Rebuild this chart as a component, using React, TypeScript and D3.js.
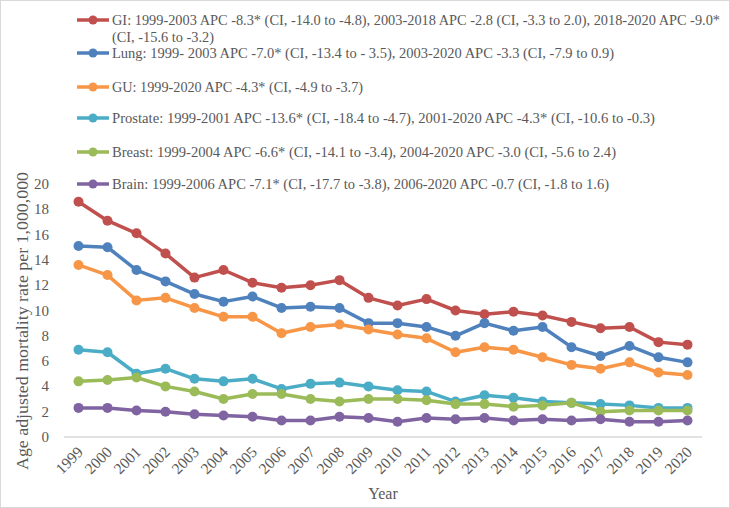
import React, { useEffect, useRef } from "react";
import * as d3 from "d3";

const years = [1999, 2000, 2001, 2002, 2003, 2004, 2005, 2006, 2007, 2008, 2009, 2010,
  2011, 2012, 2013, 2014, 2015, 2016, 2017, 2018, 2019, 2020];

const gi = [18.6, 17.1, 16.1, 14.5, 12.6, 13.2, 12.2, 11.8, 12.0, 12.4, 11.0, 10.4,
  10.9, 10.0, 9.7, 9.9, 9.6, 9.1, 8.6, 8.7, 7.5, 7.3];
const lung = [15.1, 15.0, 13.2, 12.3, 11.3, 10.7, 11.1, 10.2, 10.3, 10.2, 9.0, 9.0,
  8.7, 8.0, 9.0, 8.4, 8.7, 7.1, 6.4, 7.2, 6.3, 5.9];
const gu = [13.6, 12.8, 10.8, 11.0, 10.2, 9.5, 9.5, 8.2, 8.7, 8.9, 8.5, 8.1,
  7.8, 6.7, 7.1, 6.9, 6.3, 5.7, 5.4, 5.9, 5.1, 4.9];
const prostate = [6.9, 6.7, 5.0, 5.4, 4.6, 4.4, 4.6, 3.8, 4.2, 4.3, 4.0, 3.7,
  3.6, 2.8, 3.3, 3.1, 2.8, 2.7, 2.6, 2.5, 2.3, 2.3];
const breast = [4.4, 4.5, 4.7, 4.0, 3.6, 3.0, 3.4, 3.4, 3.0, 2.8, 3.0, 3.0,
  2.9, 2.6, 2.6, 2.4, 2.5, 2.7, 2.0, 2.1, 2.1, 2.1];
const brain = [2.3, 2.3, 2.1, 2.0, 1.8, 1.7, 1.6, 1.3, 1.3, 1.6, 1.5, 1.2,
  1.5, 1.4, 1.5, 1.3, 1.4, 1.3, 1.4, 1.2, 1.2, 1.3];

const legendLabels = [
  ["GI: 1999-2003 APC -8.3* (CI, -14.0 to -4.8), 2003-2018 APC -2.8 (CI, -3.3 to 2.0), 2018-2020 APC -9.0*",
    "(CI, -15.6 to -3.2)"],
  ["Lung: 1999- 2003 APC -7.0* (CI, -13.4 to - 3.5), 2003-2020 APC -3.3 (CI, -7.9 to 0.9)"],
  ["GU: 1999-2020 APC -4.3* (CI, -4.9 to -3.7)"],
  ["Prostate: 1999-2001 APC -13.6* (CI, -18.4 to -4.7), 2001-2020 APC -4.3* (CI, -10.6 to -0.3)"],
  ["Breast: 1999-2004 APC -6.6* (CI, -14.1 to -3.4), 2004-2020 APC -3.0 (CI, -5.6 to 2.4)"],
  ["Brain: 1999-2006 APC -7.1* (CI, -17.7 to -3.8), 2006-2020 APC -0.7 (CI, -1.8 to 1.6)"],
];
// text run widths, so the serif fallback lines up like the original face
const legendWidths = [[608, 102], [502], [251], [543], [504], [497]];
const legendY = [20, 53, 87, 118, 152, 184];

const yTicks = [0, 2, 4, 6, 8, 10, 12, 14, 16, 18, 20];

const seriesList = [
  { values: gi, color: "#c0504d" },
  { values: lung, color: "#4f81bd" },
  { values: gu, color: "#f79646" },
  { values: prostate, color: "#4bacc6" },
  { values: breast, color: "#9bbb59" },
  { values: brain, color: "#8064a2" },
];

const W = 730;
const H = 508;
const textColor = "#595959";
const font = "'Liberation Serif', 'DejaVu Serif', serif";

export default function App() {
  const ref = useRef<SVGSVGElement>(null);

  useEffect(() => {
    const svg = d3.select(ref.current);
    svg.selectAll("*").remove();

    const x = d3.scalePoint<number>().domain(years).range([64, 702]).padding(0.5);
    const y = d3.scaleLinear().domain([0, 20]).range([437, 184]);

    svg.append("rect")
      .attr("x", 0.5).attr("y", 0.5)
      .attr("width", W - 1).attr("height", H - 1)
      .attr("fill", "#fff").attr("stroke", "#d9d9d9");

    // value labels on the left
    svg.append("g").selectAll("text")
      .data(yTicks)
      .join("text")
      .attr("x", 49)
      .attr("y", (d) => y(d) + 5)
      .attr("text-anchor", "end")
      .attr("font-family", font)
      .attr("font-size", 15)
      .attr("fill", textColor)
      .text((d) => d);

    // category axis line
    svg.append("line")
      .attr("x1", 64).attr("x2", 702)
      .attr("y1", y(0)).attr("y2", y(0))
      .attr("stroke", "#d9d9d9").attr("stroke-width", 1.5);

    svg.append("g").selectAll("text")
      .data(years)
      .join("text")
      .attr("transform", (d) => `translate(${x(d)! + 5.5},${y(0) + 16}) rotate(-45)`)
      .attr("text-anchor", "end")
      .attr("font-family", font)
      .attr("font-size", 15.5)
      .attr("fill", textColor)
      .text((d) => d);

    svg.append("text")
      .attr("transform", "translate(28,321) rotate(-90)")
      .attr("text-anchor", "middle")
      .attr("font-family", font)
      .attr("font-size", 16)
      .attr("fill", textColor)
      .attr("textLength", 298)
      .attr("lengthAdjust", "spacingAndGlyphs")
      .text("Age adjusted mortality rate per 1,000,000");

    svg.append("text")
      .attr("x", 383).attr("y", 499)
      .attr("text-anchor", "middle")
      .attr("font-family", font)
      .attr("font-size", 16)
      .attr("fill", textColor)
      .text("Year");

    const line = d3.line<number>()
      .x((_, i) => x(years[i])!)
      .y((d) => y(d));

    const plot = svg.append("g");
    seriesList.forEach((s) => {
      const g = plot.append("g");
      g.append("path")
        .attr("d", line(s.values))
        .attr("fill", "none")
        .attr("stroke", s.color)
        .attr("stroke-width", 3.5)
        .attr("stroke-linejoin", "round");
      g.selectAll("circle")
        .data(s.values)
        .join("circle")
        .attr("cx", (_, i) => x(years[i])!)
        .attr("cy", (d) => y(d))
        .attr("r", 5)
        .attr("fill", s.color);
    });

    // legend
    const legend = svg.append("g");
    seriesList.forEach((s, i) => {
      const ly = legendY[i];
      legend.append("line")
        .attr("x1", 77).attr("x2", 109)
        .attr("y1", ly).attr("y2", ly)
        .attr("stroke", s.color).attr("stroke-width", 3.5);
      legend.append("circle")
        .attr("cx", 93).attr("cy", ly).attr("r", 4.5)
        .attr("fill", s.color);
      legendLabels[i].forEach((t, j) => {
        // the long first GI line is set a touch smaller so it stays inside the frame
        const size = i === 0 && j === 0 ? 14 : 15;
        legend.append("text")
          .attr("x", 112)
          .attr("y", ly + 5 + j * 17)
          .attr("font-family", font)
          .attr("font-size", size)
          .attr("fill", textColor)
          .attr("textLength", legendWidths[i][j])
          .attr("lengthAdjust", "spacingAndGlyphs")
          .text(t);
      });
    });
  }, []);

  return (
    <div style={{ position: "fixed", left: 0, top: 0 }}>
      <svg ref={ref} width={W} height={H} style={{ display: "block" }} />
    </div>
  );
}
